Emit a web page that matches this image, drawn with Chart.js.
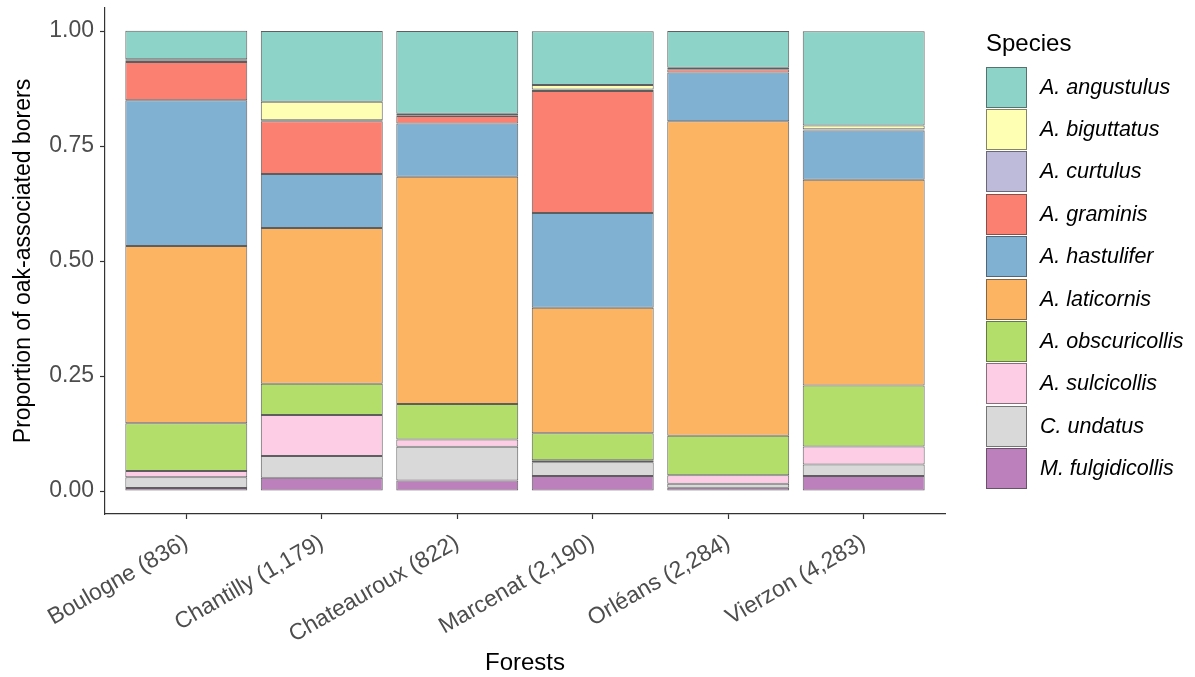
<!DOCTYPE html>
<html lang="en">
<head>
    <meta charset="UTF-8">
    <title>Oak-associated borers by forest</title>
    <style>
        body {
            margin: 0;
            background: white;
            font-family: "Liberation Sans", Arial, sans-serif;
        }
        .wrap {
            position: relative;
            width: 1195px;
            height: 677px;
        }
        #legend {
            position: absolute;
            left: 986px;
            top: 29px;
        }
        #legend .title {
            font-size: 24px;
            color: #000;
            margin-bottom: 8px;
            height: 29px;
        }
        #legend .item {
            display: flex;
            align-items: center;
            height: 42.4px;
        }
        #legend .key {
            width: 41px;
            height: 41px;
            border: 1px solid rgba(50,50,50,0.6);
            box-sizing: border-box;
            margin-right: 13px;
        }
        #legend .lab {
            font-size: 21.5px;
            font-style: italic;
            color: #000;
        }
    </style>
</head>
<body>
<div class="wrap">
    <canvas id="chart" width="1195" height="677"></canvas>
    <div id="legend"></div>
</div>

<script src="https://cdn.jsdelivr.net/npm/chart.js"></script>
<script>
    const forests = ['Boulogne (836)', 'Chantilly (1,179)', 'Chateauroux (822)', 'Marcenat (2,190)', 'Orléans (2,284)', 'Vierzon (4,283)'];
    const species = ['A. angustulus', 'A. biguttatus', 'A. curtulus', 'A. graminis', 'A. hastulifer', 'A. laticornis', 'A. obscuricollis', 'A. sulcicollis', 'C. undatus', 'M. fulgidicollis'];
    const colors = ['#8DD3C7', '#FFFFB3', '#BEBADA', '#FB8072', '#80B1D3', '#FDB462', '#B3DE69', '#FCCDE5', '#D9D9D9', '#BC80BD'];
    const yTicks = [0, 0.25, 0.5, 0.75, 1];

    // proportions per forest (same order as forests)
    const angustulus     = [0.062, 0.154, 0.180, 0.117, 0.080, 0.205];
    const biguttatus     = [0.002, 0.040, 0.004, 0.010, 0.000, 0.008];
    const curtulus       = [0.004, 0.002, 0.001, 0.003, 0.003, 0.001];
    const graminis       = [0.083, 0.115, 0.016, 0.265, 0.007, 0.002];
    const hastulifer     = [0.317, 0.117, 0.116, 0.206, 0.106, 0.107];
    const laticornis     = [0.385, 0.339, 0.494, 0.273, 0.684, 0.447];
    const obscuricollis  = [0.104, 0.068, 0.077, 0.059, 0.086, 0.133];
    const sulcicollis    = [0.0135, 0.089, 0.016, 0.004, 0.018, 0.039];
    const undatus        = [0.0235, 0.047, 0.073, 0.030, 0.009, 0.025];
    const fulgidicollis  = [0.0065, 0.029, 0.023, 0.0326, 0.007, 0.0326];

    const values = [angustulus, biguttatus, curtulus, graminis, hastulifer, laticornis, obscuricollis, sulcicollis, undatus, fulgidicollis];

    // chart.js stacks the first dataset at the bottom, ggplot puts the first level on top
    const datasets = [];
    for (let s = species.length - 1; s >= 0; s--) {
        datasets.push({
            label: species[s],
            data: values[s].map((v, i) => ({ x: i + 1, y: v })),
            backgroundColor: colors[s],
            borderColor: 'rgba(40,40,40,0.75)',
            borderWidth: 1,
            borderSkipped: false,
            barPercentage: 0.9,
            categoryPercentage: 1.0
        });
    }

    const tickColor = '#4D4D4D';
    const fam = '"Liberation Sans", Arial, sans-serif';

    new Chart(document.getElementById('chart'), {
        type: 'bar',
        data: { datasets: datasets },
        options: {
            responsive: false,
            animation: false,
            layout: { padding: { top: 8, right: 250, left: 0, bottom: 0 } },
            plugins: {
                legend: { display: false },
                tooltip: { enabled: false }
            },
            scales: {
                x: {
                    type: 'linear',
                    stacked: true,
                    offset: false,
                    min: 0.4,
                    max: 6.6,
                    afterBuildTicks: axis => { axis.ticks = [1, 2, 3, 4, 5, 6].map(v => ({ value: v })); },
                    afterFit: axis => {
                        axis.height = 163;
                        axis.paddingLeft = 0;
                        axis.paddingRight = 0;
                    },
                    ticks: {
                        callback: v => forests[v - 1],
                        color: tickColor,
                        font: { family: fam, size: 23 },
                        minRotation: 30,
                        maxRotation: 30,
                        autoSkip: false,
                        padding: 10
                    },
                    grid: {
                        offset: false,
                        drawOnChartArea: false,
                        drawTicks: true,
                        tickLength: 5,
                        tickColor: '#333',
                        tickWidth: 1.2
                    },
                    border: { display: true, color: '#333', width: 1.2 },
                    title: {
                        display: true,
                        text: 'Forests',
                        color: '#000',
                        font: { family: fam, size: 24, lineHeight: 1.1 },
                        padding: { top: 0, bottom: 0 }
                    }
                },
                y: {
                    stacked: true,
                    min: -0.05,
                    max: 1.05,
                    afterBuildTicks: axis => { axis.ticks = yTicks.map(v => ({ value: v })); },
                    afterFit: axis => {
                        axis.width = 105;
                        axis.paddingTop = 0;
                        axis.paddingBottom = 0;
                    },
                    ticks: {
                        callback: v => v.toFixed(2),
                        color: tickColor,
                        font: { family: fam, size: 23 },
                        padding: 6
                    },
                    grid: {
                        drawOnChartArea: false,
                        drawTicks: true,
                        tickLength: 5,
                        tickColor: '#333',
                        tickWidth: 1.2
                    },
                    border: { display: true, color: '#333', width: 1.2 },
                    title: {
                        display: true,
                        text: 'Proportion of oak-associated borers',
                        color: '#000',
                        font: { family: fam, size: 23 },
                        padding: { top: 10, bottom: 0 }
                    }
                }
            }
        }
    });

    // legend, ggplot style: title on top, one key per species
    const legend = document.getElementById('legend');
    legend.innerHTML = '<div class="title">Species</div>' + species.map((s, i) =>
        `<div class="item"><div class="key" style="background:${colors[i]}"></div><span class="lab">${s}</span></div>`
    ).join('');
</script>
</body>
</html>
